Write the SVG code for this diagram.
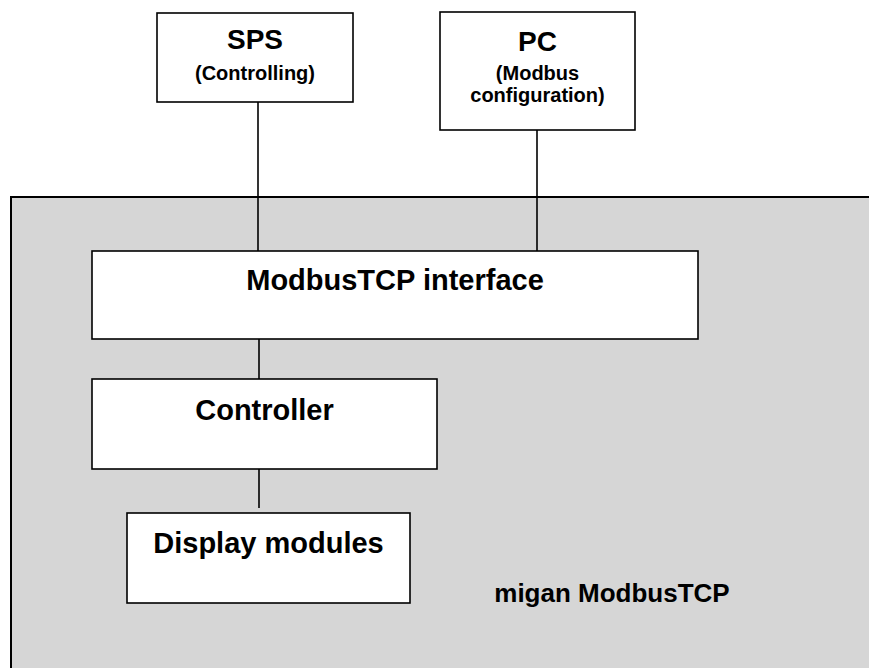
<svg xmlns="http://www.w3.org/2000/svg" width="869" height="668" viewBox="0 0 869 668">
<style>
.box{fill:#fff;stroke:#000;stroke-width:1.6}
.frame{fill:#d6d6d6;stroke:#000;stroke-width:2}
.h{font-family:"Liberation Sans",Arial,sans-serif;font-weight:bold;font-size:28px;fill:#000;text-anchor:middle}
.s{font-family:"Liberation Sans",Arial,sans-serif;font-weight:bold;font-size:20px;fill:#000;text-anchor:middle}
.conn line{stroke:#000;stroke-width:1.6}
</style>
<rect width="869" height="668" fill="#fff"/>
<g id="migan-frame">
<rect class="frame" x="11" y="197" width="880" height="490"/>
<text class="h" x="612" y="602" style="font-size:26px">migan ModbusTCP</text>
</g>
<g id="connectors" class="conn">
<line x1="258" y1="102" x2="258" y2="251"/>
<line x1="537" y1="130" x2="537" y2="251"/>
<line x1="259" y1="339" x2="259" y2="379"/>
<line x1="259" y1="469" x2="259" y2="508"/>
</g>
<g id="sps">
<rect class="box" x="157" y="13" width="196" height="89"/>
<text class="h" x="255" y="49">SPS</text>
<text class="s" x="255" y="80">(Controlling)</text>
</g>
<g id="pc">
<rect class="box" x="440" y="12" width="195" height="118"/>
<text class="h" x="537.5" y="51">PC</text>
<text class="s" x="537.5" y="80">(Modbus</text>
<text class="s" x="537.5" y="102">configuration)</text>
</g>
<g id="modbus-interface">
<rect class="box" x="92" y="251" width="606" height="88"/>
<text class="h" x="395" y="290" style="font-size:29px">ModbusTCP interface</text>
</g>
<g id="controller">
<rect class="box" x="92" y="379" width="345" height="90"/>
<text class="h" x="264.5" y="420" style="font-size:29px">Controller</text>
</g>
<g id="display-modules">
<rect class="box" x="127" y="513" width="283" height="90"/>
<text class="h" x="268.5" y="553" style="font-size:29px">Display modules</text>
</g>
</svg>
